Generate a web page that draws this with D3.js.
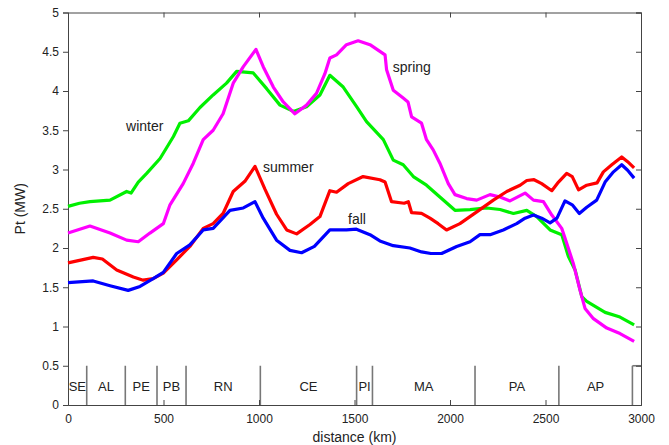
<!DOCTYPE html>
<html>
<head>
<meta charset="utf-8">
<script src="https://cdn.jsdelivr.net/npm/d3@7"></script>
<style>
  body { margin: 0; background: #fff; }
  text { font-family: "Liberation Sans", Arial, sans-serif; fill: #222; }
</style>
</head>
<body>
<div id="chart"></div>
<script>
// distance (km) and power (MW)
var winterKm = [0, 60, 115, 220, 307, 330, 368, 412, 482, 552, 586, 630, 691, 760, 830, 883, 970, 1040, 1110, 1180, 1249, 1319, 1371, 1441, 1511, 1563, 1651, 1703, 1755, 1808, 1877, 1947, 2026, 2105, 2192, 2262, 2332, 2402, 2454, 2524, 2585, 2620, 2655, 2690, 2716, 2812, 2890, 2964];
var winterMW = [2.53, 2.57, 2.59, 2.61, 2.72, 2.70, 2.84, 2.95, 3.14, 3.42, 3.59, 3.62, 3.79, 3.95, 4.10, 4.25, 4.23, 4.03, 3.82, 3.74, 3.80, 3.95, 4.20, 4.05, 3.80, 3.61, 3.38, 3.12, 3.06, 2.91, 2.80, 2.65, 2.48, 2.49, 2.51, 2.49, 2.44, 2.48, 2.40, 2.23, 2.17, 1.89, 1.72, 1.38, 1.32, 1.18, 1.12, 1.02];

var springKm = [0, 115, 220, 307, 368, 429, 499, 534, 603, 656, 708, 760, 812, 865, 918, 984, 1022, 1075, 1127, 1188, 1249, 1301, 1345, 1371, 1406, 1458, 1519, 1581, 1660, 1668, 1703, 1755, 1780, 1799, 1851, 1877, 1912, 1947, 1991, 2026, 2087, 2140, 2209, 2262, 2314, 2393, 2437, 2489, 2533, 2585, 2611, 2646, 2681, 2707, 2751, 2821, 2890, 2964];
var springMW = [2.19, 2.28, 2.19, 2.10, 2.08, 2.19, 2.31, 2.55, 2.82, 3.08, 3.38, 3.50, 3.71, 4.10, 4.31, 4.53, 4.31, 4.05, 3.86, 3.71, 3.82, 3.97, 4.22, 4.42, 4.46, 4.59, 4.64, 4.59, 4.46, 4.27, 4.01, 3.91, 3.86, 3.67, 3.59, 3.38, 3.25, 3.08, 2.82, 2.68, 2.63, 2.61, 2.68, 2.65, 2.60, 2.70, 2.61, 2.59, 2.42, 2.25, 2.06, 1.80, 1.46, 1.23, 1.10, 0.98, 0.91, 0.81];

var summerKm = [0, 132, 180, 255, 342, 394, 446, 499, 569, 638, 708, 760, 812, 865, 926, 979, 1031, 1092, 1145, 1197, 1267, 1319, 1371, 1406, 1467, 1545, 1633, 1660, 1694, 1760, 1782, 1799, 1851, 1895, 1938, 1982, 2052, 2140, 2227, 2297, 2367, 2402, 2440, 2480, 2533, 2568, 2611, 2640, 2673, 2716, 2770, 2803, 2847, 2899, 2930, 2964];
var summerMW = [1.81, 1.88, 1.86, 1.72, 1.63, 1.59, 1.61, 1.68, 1.85, 2.02, 2.25, 2.31, 2.44, 2.72, 2.85, 3.04, 2.75, 2.43, 2.23, 2.18, 2.30, 2.40, 2.73, 2.71, 2.82, 2.91, 2.87, 2.84, 2.59, 2.57, 2.59, 2.45, 2.44, 2.38, 2.31, 2.23, 2.31, 2.46, 2.61, 2.72, 2.80, 2.86, 2.87, 2.82, 2.73, 2.84, 2.95, 2.91, 2.74, 2.80, 2.83, 2.97, 3.06, 3.16, 3.10, 3.02];

var fallKm = [0, 132, 220, 315, 377, 446, 499, 569, 638, 708, 760, 848, 918, 979, 1022, 1092, 1162, 1223, 1290, 1371, 1458, 1510, 1581, 1633, 1703, 1790, 1851, 1900, 1956, 2035, 2105, 2157, 2210, 2279, 2349, 2393, 2437, 2480, 2524, 2560, 2602, 2640, 2677, 2716, 2768, 2812, 2856, 2899, 2930, 2964];
var fallMW = [1.56, 1.58, 1.52, 1.46, 1.51, 1.61, 1.69, 1.93, 2.04, 2.23, 2.25, 2.48, 2.51, 2.59, 2.38, 2.10, 1.97, 1.94, 2.02, 2.23, 2.23, 2.24, 2.17, 2.09, 2.03, 2.00, 1.95, 1.93, 1.93, 2.02, 2.08, 2.17, 2.17, 2.23, 2.31, 2.38, 2.42, 2.38, 2.32, 2.38, 2.60, 2.55, 2.44, 2.52, 2.61, 2.84, 2.97, 3.06, 2.99, 2.89];

// states along the route
var stateNames = ["SE", "AL", "PE", "PB", "RN", "CE", "PI", "MA", "PA", "AP"];
var stateBorders = [98, 300, 466, 618, 1007, 1511, 1594, 2131, 2570, 2955];

var xTicks = [0, 500, 1000, 1500, 2000, 2500, 3000];
var yTicks = [0, 0.5, 1, 1.5, 2, 2.5, 3, 3.5, 4, 4.5, 5];

var series = [
    {name: "winter", km: winterKm, mw: winterMW, color: "#00f000", at: [304, 3.49]},
    {name: "spring", km: springKm, mw: springMW, color: "#ff00ff", at: [1700, 4.24]},
    {name: "summer", km: summerKm, mw: summerMW, color: "#ff0000", at: [1021, 2.97]},
    {name: "fall", km: fallKm, mw: fallMW, color: "#0000ff", at: [1466, 2.31]}
];

var svgWidth = 669;
var svgHeight = 445;
var margin = {top: 12.5, right: 28, bottom: 40, left: 68};
var chartWidth = svgWidth - margin.left - margin.right;
var chartHeight = svgHeight - margin.top - margin.bottom;

var svg = d3.select("#chart")
    .append("svg")
    .attr("width", svgWidth)
    .attr("height", svgHeight);

var chartGroup = svg.append("g")
    .attr("transform", `translate(${margin.left},${margin.top})`);

var x = d3.scaleLinear().domain([0, 3000]).range([0, chartWidth]);
var y = d3.scaleLinear().domain([0, 5]).range([chartHeight, 0]);

// state borders and names
chartGroup.selectAll("line.border")
    .data(stateBorders)
    .enter()
    .append("line")
    .attr("x1", d => x(d)).attr("x2", d => x(d))
    .attr("y1", y(0)).attr("y2", y(0.5))
    .attr("stroke", "#777")
    .attr("stroke-width", 1.6);

chartGroup.append("line")
    .attr("x1", x(stateBorders[stateBorders.length - 1])).attr("x2", x(3000))
    .attr("y1", y(0.5)).attr("y2", y(0.5))
    .attr("stroke", "#777")
    .attr("stroke-width", 1.6);

var bounds = [0].concat(stateBorders);
chartGroup.selectAll("text.state")
    .data(stateNames)
    .enter()
    .append("text")
    .attr("x", (d, i) => x((bounds[i] + bounds[i + 1]) / 2))
    .attr("y", y(0.24))
    .attr("dy", "0.35em")
    .attr("text-anchor", "middle")
    .style("font-size", "13px")
    .text(d => d);

// box and axes
var fmt = d => String(d);
var bottomAxis = d3.axisBottom(x).tickValues(xTicks).tickSize(-5).tickPadding(9).tickFormat(fmt);
var topAxis = d3.axisTop(x).tickValues(xTicks).tickSize(-5).tickFormat("");
var leftAxis = d3.axisLeft(y).tickValues(yTicks).tickSize(5).tickPadding(4).tickFormat(fmt);
var rightAxis = d3.axisRight(y).tickValues(yTicks).tickSize(-5).tickFormat("");

chartGroup.append("g").attr("transform", `translate(0,${chartHeight})`).call(bottomAxis);
chartGroup.append("g").call(topAxis);
chartGroup.append("g").call(leftAxis);
chartGroup.append("g").attr("transform", `translate(${chartWidth},0)`).call(rightAxis);

chartGroup.selectAll(".domain").attr("stroke", "#444");
chartGroup.selectAll(".tick line").attr("stroke", "#444");
chartGroup.selectAll(".tick text")
    .style("font-size", "12px")
    .style("font-family", "Liberation Sans, Arial, sans-serif")
    .attr("fill", "#222");

// season curves
var line = d3.line()
    .x(d => x(d[0]))
    .y(d => y(d[1]));

series.forEach(function(s) {
    var pts = s.km.map((k, i) => [k, s.mw[i]]);
    chartGroup.append("path")
        .datum(pts)
        .attr("d", line)
        .attr("fill", "none")
        .attr("stroke", s.color)
        .attr("stroke-width", 3.2)
        .attr("stroke-linejoin", "round");

    chartGroup.append("text")
        .attr("x", x(s.at[0]))
        .attr("y", y(s.at[1]))
        .style("font-size", "14px")
        .text(s.name);
});

// axis titles
chartGroup.append("text")
    .attr("x", chartWidth / 2)
    .attr("y", chartHeight + 37)
    .attr("text-anchor", "middle")
    .style("font-size", "14px")
    .text("distance (km)");

chartGroup.append("text")
    .attr("transform", "rotate(-90)")
    .attr("x", -chartHeight / 2)
    .attr("y", -43)
    .attr("text-anchor", "middle")
    .style("font-size", "14px")
    .text("Pt (MW)");
</script>
</body>
</html>
